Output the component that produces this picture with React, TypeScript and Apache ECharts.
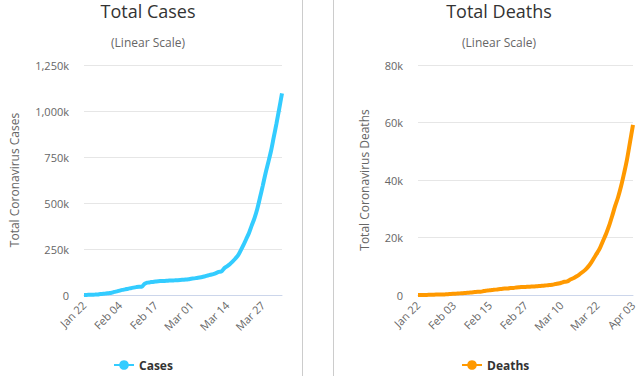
import React, { useEffect, useRef } from "react";
import * as echarts from "echarts";

const START = Date.UTC(2020, 0, 22);
const MONTHS = ["Jan", "Feb", "Mar", "Apr"];
const dates: string[] = Array.from({ length: 73 }, (_, i) => {
  const d = new Date(START + i * 86400000);
  return `${MONTHS[d.getUTCMonth()]} ${String(d.getUTCDate()).padStart(2, "0")}`;
});

const cases = [
  555, 654, 941, 1434, 2118, 2927, 5578, 6166, 8234, 9927,
  12038, 16787, 19881, 23892, 27635, 30794, 34391, 37120, 40150, 42762,
  44802, 45221, 60368, 66885, 69030, 71224, 73258, 75136, 75639, 76197,
  76819, 78572, 78958, 79561, 80406, 81388, 82746, 84112, 86011,
  88369, 90306, 92840, 95120, 97886, 101801, 105847, 109821, 113590, 118620,
  125875, 128352, 145205, 156101, 167454, 181574, 197102, 214821, 242570, 272208,
  304507, 336953, 378235, 418045, 467653, 529591, 593291, 660706, 720117, 782365,
  857487, 932605, 1013157, 1095917,
];

const deaths = [
  17, 18, 26, 42, 56, 82, 131, 133, 171, 213,
  259, 362, 426, 492, 564, 634, 719, 806, 906, 1013,
  1113, 1118, 1371, 1523, 1666, 1770, 1868, 2007, 2122, 2247,
  2251, 2458, 2469, 2629, 2708, 2770, 2814, 2872, 2941,
  2996, 3085, 3160, 3254, 3348, 3460, 3558, 3803, 3996, 4262,
  4615, 4720, 5404, 5819, 6440, 7126, 7905, 8733, 9867, 11299,
  12973, 14651, 16505, 18900, 21300, 24100, 27400, 30900, 34000, 37800,
  42300, 47200, 53200, 59200,
];

const FONT = "'Open Sans', 'DejaVu Sans', sans-serif";
const kFmt = (v: number) => (v === 0 ? "0" : (v / 1000).toLocaleString("en-US") + "k");

export default function App() {
  const ref = useRef<HTMLDivElement>(null);
  useEffect(() => {
    document.body.style.margin = "0";
    const chart = echarts.init(ref.current!, null, { renderer: "svg" });
    const axisLabel = { color: "#666", fontSize: 11, fontFamily: FONT };
    const xAxisBase = {
      type: "category" as const,
      data: dates,
      boundaryGap: false,
      axisLine: { lineStyle: { color: "#ccd6eb" } },
      axisTick: { show: false },
      splitLine: { show: false },
    };
    const yAxisBase = {
      type: "value" as const,
      min: 0,
      nameLocation: "middle" as const,
      nameTextStyle: { color: "#666", fontSize: 12, fontFamily: FONT },
      axisLine: { show: false },
      axisTick: { show: false },
      splitLine: { lineStyle: { color: "#e6e6e6" } },
      axisLabel: { ...axisLabel, formatter: kFmt, margin: 15 },
    };
    const titleStyle = { fontSize: 18, fontWeight: "normal", color: "#333", fontFamily: FONT };
    const subStyle = { fontSize: 12, fontWeight: "normal", color: "#666", fontFamily: FONT };
    const legendText = { fontWeight: "bold", fontSize: 12, color: "#333", fontFamily: FONT };
    chart.setOption({
      animation: false,
      title: [
        { text: "Total Cases", left: 143, top: -3, textAlign: "center", textStyle: titleStyle },
        { text: "(Linear Scale)", left: 143, top: 31, textAlign: "center", textStyle: subStyle },
        { text: "Total Deaths", left: 494, top: -3, textAlign: "center", textStyle: titleStyle },
        { text: "(Linear Scale)", left: 494, top: 31, textAlign: "center", textStyle: subStyle },
      ],
      legend: [
        { data: ["Cases"], left: 108, top: 354, itemWidth: 20, itemHeight: 12, itemGap: 6, textStyle: legendText },
        { data: ["Deaths"], left: 456, top: 354, itemWidth: 20, itemHeight: 12, itemGap: 6, textStyle: legendText },
      ],
      grid: [
        { left: 84, right: 362, top: 65, bottom: 81, containLabel: false },
        { left: 418, right: 11, top: 65, bottom: 81, containLabel: false },
      ],
      xAxis: [
        { ...xAxisBase, gridIndex: 0, axisLabel: { ...axisLabel, rotate: 45, interval: 12, margin: 8 } },
        { ...xAxisBase, gridIndex: 1, axisLabel: { ...axisLabel, rotate: 45, interval: 11, margin: 8 } },
      ],
      yAxis: [
        { ...yAxisBase, gridIndex: 0, max: 1250000, interval: 250000, name: "Total Coronavirus Cases", nameGap: 64 },
        { ...yAxisBase, gridIndex: 1, max: 80000, interval: 20000, name: "Total Coronavirus Deaths", nameGap: 48 },
      ],
      graphic: [
        { type: "line", shape: { x1: 302.5, y1: 0, x2: 302.5, y2: 376 }, style: { stroke: "#cccccc", lineWidth: 1 } },
        { type: "line", shape: { x1: 333.5, y1: 0, x2: 333.5, y2: 376 }, style: { stroke: "#cccccc", lineWidth: 1 } },
      ],
      series: [
        { name: "Cases", type: "line", xAxisIndex: 0, yAxisIndex: 0, data: cases, smooth: 0.3, symbol: "circle", symbolSize: 8, showSymbol: false, color: "#33ccff", lineStyle: { width: 4, color: "#33ccff" } },
        { name: "Deaths", type: "line", xAxisIndex: 1, yAxisIndex: 1, data: deaths, smooth: 0.3, symbol: "circle", symbolSize: 8, showSymbol: false, color: "#ff9900", lineStyle: { width: 4, color: "#ff9900" } },
      ],
    });
    return () => chart.dispose();
  }, []);
  return <div ref={ref} style={{ position: "absolute", left: 0, top: 0, width: 644, height: 376 }} />;
}
